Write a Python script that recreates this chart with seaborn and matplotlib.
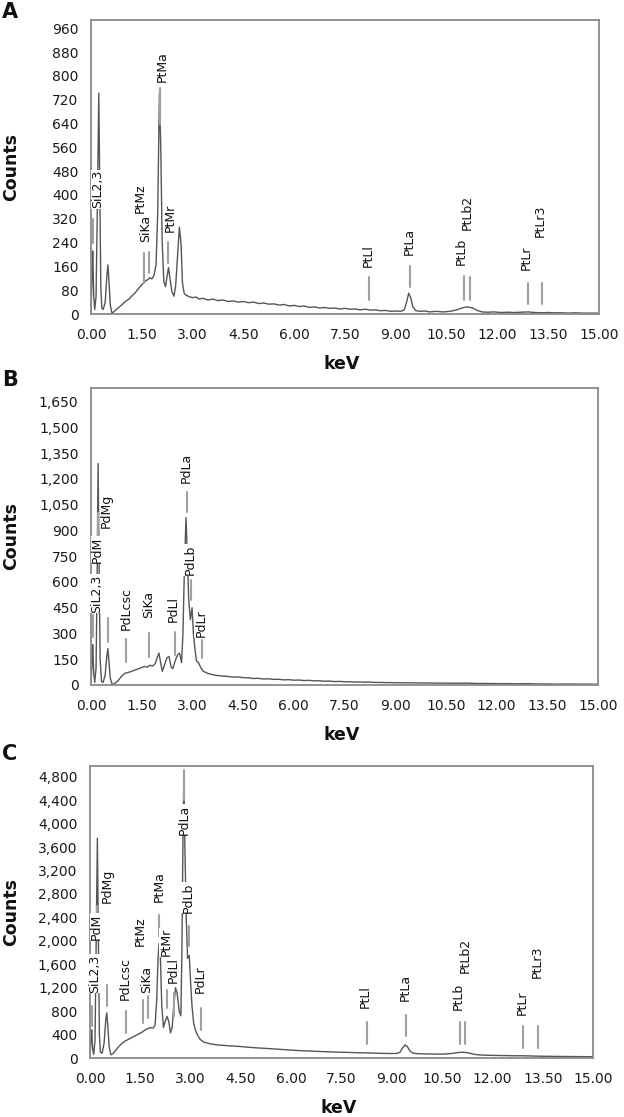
import matplotlib
matplotlib.use("Agg")
import matplotlib.pyplot as plt
from matplotlib.ticker import FuncFormatter
import seaborn as sns
import pandas as pd

sns.set_style("white")
plt.rcParams["font.family"] = ["DejaVu Sans"]

# ---------------- data (keV, counts) ----------------
spec_A = [(0.00, 5), (0.03, 120), (0.05, 212), (0.08, 60), (0.11, 15), (0.15, 60), (0.19, 380),
          (0.23, 742), (0.26, 420), (0.29, 90), (0.32, 20), (0.36, 15), (0.42, 40), (0.47, 130),
          (0.50, 165), (0.53, 110), (0.57, 30), (0.62, 2), (0.68, 8), (0.75, 15), (0.82, 22),
          (0.90, 30), (0.97, 38), (1.05, 45), (1.12, 50), (1.20, 60), (1.28, 68), (1.35, 78),
          (1.42, 88), (1.50, 98), (1.56, 106), (1.62, 112), (1.68, 116), (1.74, 122), (1.80, 118),
          (1.86, 130), (1.92, 165), (1.97, 340), (2.02, 742), (2.06, 560), (2.10, 250), (2.15, 110),
          (2.20, 92), (2.25, 130), (2.29, 156), (2.33, 120), (2.39, 75), (2.45, 60), (2.50, 95),
          (2.56, 205), (2.61, 292), (2.66, 235), (2.70, 105), (2.75, 70), (2.80, 64), (2.90, 58),
          (3.00, 55), (3.10, 57), (3.20, 50), (3.30, 53), (3.45, 47), (3.60, 50), (3.75, 45),
          (3.90, 47), (4.05, 42), (4.20, 44), (4.35, 40), (4.50, 42), (4.65, 38), (4.80, 40),
          (4.95, 35), (5.10, 37), (5.25, 33), (5.40, 34), (5.55, 30), (5.70, 32), (5.85, 27),
          (6.00, 29), (6.15, 25), (6.30, 27), (6.45, 22), (6.60, 24), (6.75, 20), (6.90, 22),
          (7.05, 19), (7.20, 20), (7.35, 17), (7.50, 19), (7.65, 16), (7.80, 17), (7.95, 14),
          (8.10, 16), (8.25, 13), (8.40, 14), (8.55, 11), (8.70, 12), (8.85, 9), (9.00, 10),
          (9.15, 9), (9.25, 14), (9.32, 40), (9.38, 70), (9.44, 55), (9.50, 25), (9.58, 12),
          (9.70, 9), (9.85, 10), (10.0, 7), (10.2, 9), (10.4, 7), (10.6, 9), (10.8, 14),
          (10.95, 20), (11.1, 24), (11.25, 21), (11.4, 12), (11.55, 7), (11.7, 6), (11.9, 7),
          (12.1, 5), (12.3, 6), (12.5, 5), (12.7, 6), (12.9, 7), (13.1, 5), (13.3, 4), (13.5, 5),
          (13.7, 4), (13.9, 4), (14.1, 3), (14.3, 4), (14.5, 3), (14.7, 3), (14.9, 3), (15.0, 3)]

spec_B = [(0.00, 5), (0.03, 130), (0.05, 235), (0.08, 70), (0.11, 15), (0.15, 100), (0.18, 600),
          (0.21, 1290), (0.24, 700), (0.27, 150), (0.31, 20), (0.36, 15), (0.42, 60), (0.47, 170),
          (0.50, 212), (0.53, 140), (0.57, 40), (0.63, 2), (0.70, 8), (0.80, 25), (0.90, 50),
          (1.00, 68), (1.08, 72), (1.18, 78), (1.28, 86), (1.38, 92), (1.48, 100), (1.58, 108),
          (1.66, 104), (1.74, 115), (1.82, 110), (1.90, 125), (1.96, 160), (2.01, 186), (2.06, 130),
          (2.11, 80), (2.18, 120), (2.25, 160), (2.31, 165), (2.37, 105), (2.42, 95), (2.49, 140),
          (2.56, 175), (2.62, 186), (2.68, 130), (2.72, 300), (2.76, 650), (2.81, 975), (2.85, 760),
          (2.89, 500), (2.94, 380), (2.99, 450), (3.03, 300), (3.07, 220), (3.12, 140), (3.18, 130),
          (3.25, 100), (3.32, 80), (3.45, 68), (3.60, 60), (3.75, 55), (3.90, 52), (4.05, 50),
          (4.20, 46), (4.35, 47), (4.50, 43), (4.65, 42), (4.80, 38), (4.95, 39), (5.10, 35),
          (5.25, 36), (5.40, 33), (5.55, 33), (5.70, 30), (5.85, 31), (6.00, 28), (6.15, 29),
          (6.30, 26), (6.45, 27), (6.60, 24), (6.75, 25), (6.90, 22), (7.05, 23), (7.20, 20),
          (7.35, 21), (7.50, 19), (7.65, 19), (7.80, 17), (7.95, 18), (8.10, 16), (8.25, 17),
          (8.40, 15), (8.55, 15), (8.70, 14), (8.85, 14), (9.00, 13), (9.3, 13), (9.6, 12),
          (9.9, 12), (10.2, 11), (10.5, 11), (10.8, 10), (11.1, 11), (11.4, 9), (11.7, 9),
          (12.0, 8), (12.3, 8), (12.6, 7), (12.9, 8), (13.2, 6), (13.5, 6), (13.8, 5), (14.1, 6),
          (14.4, 5), (14.7, 5), (15.0, 4)]

spec_C = [(0.00, 30), (0.03, 300), (0.05, 480), (0.08, 150), (0.11, 60), (0.15, 300), (0.18, 1800),
          (0.22, 3750), (0.25, 2000), (0.28, 400), (0.31, 100), (0.36, 80), (0.42, 250), (0.47, 650),
          (0.50, 770), (0.53, 560), (0.57, 200), (0.62, 56), (0.68, 70), (0.75, 120), (0.85, 190),
          (0.95, 250), (1.05, 290), (1.15, 320), (1.25, 350), (1.35, 380), (1.45, 410), (1.55, 440),
          (1.65, 480), (1.72, 500), (1.80, 520), (1.88, 510), (1.94, 560), (1.99, 1000), (2.03, 1700),
          (2.06, 1960), (2.10, 1700), (2.14, 900), (2.19, 520), (2.24, 620), (2.30, 710), (2.35, 620),
          (2.40, 430), (2.45, 520), (2.50, 900), (2.55, 1200), (2.60, 1100), (2.66, 800), (2.71, 720),
          (2.74, 1800), (2.77, 3600), (2.80, 4850), (2.83, 3600), (2.87, 2400), (2.91, 1700),
          (2.96, 1750), (3.00, 1300), (3.04, 900), (3.09, 600), (3.14, 480), (3.20, 400), (3.28, 320),
          (3.40, 270), (3.60, 240), (3.80, 222), (4.00, 215), (4.20, 205), (4.40, 200), (4.60, 190),
          (4.80, 180), (5.00, 172), (5.20, 165), (5.40, 158), (5.60, 150), (5.80, 142), (6.00, 135),
          (6.20, 128), (6.40, 122), (6.60, 118), (6.80, 112), (7.00, 108), (7.20, 104), (7.40, 100),
          (7.60, 97), (7.80, 93), (8.00, 90), (8.20, 88), (8.40, 85), (8.60, 80), (8.80, 78),
          (9.00, 76), (9.15, 78), (9.25, 100), (9.32, 170), (9.40, 225), (9.47, 190), (9.55, 110),
          (9.65, 80), (9.80, 72), (10.0, 70), (10.2, 68), (10.4, 66), (10.6, 68), (10.8, 78),
          (10.95, 92), (11.1, 98), (11.25, 92), (11.4, 70), (11.55, 55), (11.7, 50), (11.9, 46),
          (12.1, 44), (12.3, 42), (12.5, 40), (12.7, 38), (12.9, 38), (13.1, 35), (13.3, 32),
          (13.5, 30), (13.7, 29), (13.9, 27), (14.1, 26), (14.3, 25), (14.5, 24), (14.7, 23),
          (14.9, 22), (15.0, 22)]

# peak labels: (name, marker keV, marker low, marker high, text keV, text bottom)
labels_A = [("SiL2,3", 0.05, 240, 320, 0.19, 355), ("PtMz", 1.57, 104, 204, 1.46, 340),
            ("SiKa", 1.70, 137, 208, 1.62, 242), ("PtMa", 2.04, 640, 760, 2.09, 780),
            ("PtMr", 2.28, 170, 243, 2.33, 276), ("PtLl", 8.22, 47, 125, 8.18, 159),
            ("PtLa", 9.42, 90, 162, 9.40, 198), ("PtLb", 11.02, 47, 128, 10.94, 165),
            ("PtLb2", 11.19, 47, 126, 11.12, 282), ("PtLr", 12.90, 34, 105, 12.86, 148),
            ("PtLr3", 13.32, 32, 105, 13.28, 260)]
labels_B = [("SiL2,3", 0.06, 281, 408, 0.17, 419), ("PdM", 0.21, 800, 1000, 0.19, 710),
            ("PdMg", 0.50, 252, 390, 0.46, 914), ("PdLcsc", 1.03, 136, 268, 1.03, 320),
            ("SiKa", 1.71, 165, 303, 1.70, 388), ("PdLl", 2.48, 175, 311, 2.44, 369),
            ("PdLa", 2.83, 1009, 1126, 2.82, 1175), ("PdLb", 2.97, 495, 611, 2.93, 640),
            ("PdLr", 3.29, 157, 262, 3.26, 281)]
labels_C = [("SiL2,3", 0.06, 540, 880, 0.15, 1108), ("PdM", 0.21, 2200, 2600, 0.20, 2017),
            ("PdMg", 0.50, 880, 1250, 0.50, 2642), ("PdLcsc", 1.06, 426, 794, 1.06, 994),
            ("PtMz", 1.59, 597, 994, 1.51, 1903), ("SiKa", 1.72, 682, 1050, 1.70, 1108),
            ("PtMa", 2.06, 2073, 2443, 2.06, 2670), ("PtMr", 2.29, 852, 1165, 2.26, 1732),
            ("PdLl", 2.50, 710, 1108, 2.47, 1278), ("PdLa", 2.80, 4405, 4917, 2.80, 3807),
            ("PdLb", 2.96, 1903, 2244, 2.93, 2472), ("PdLr", 3.30, 483, 852, 3.30, 1108),
            ("PtLl", 8.25, 244, 608, 8.20, 852), ("PtLa", 9.42, 380, 739, 9.40, 966),
            ("PtLb", 11.03, 244, 608, 10.99, 824), ("PtLb2", 11.18, 244, 608, 11.18, 1449),
            ("PtLr", 12.92, 170, 551, 12.88, 739), ("PtLr3", 13.35, 170, 551, 13.33, 1364)]

x_ticks = [0.0, 1.5, 3.0, 4.5, 6.0, 7.5, 9.0, 10.5, 12.0, 13.5, 15.0]
panel_letters = ["A", "B", "C"]

# ---------------- figure ----------------
W, H = 624, 1117
fig = plt.figure(figsize=(W / 100, H / 100), dpi=100)

# (left px, top px, right px, bottom px)
boxes = [(91, 20, 599, 314), (91, 388, 598, 685), (90, 766, 593, 1058)]
ymax = [988, 1730, 4982]
ystep = [80, 150, 400]
ytop_tick = [960, 1650, 4800]
specs = [spec_A, spec_B, spec_C]
labels = [labels_A, labels_B, labels_C]
letter_y = [12, 380, 754]

spine_col = "#8a8a8a"
line_col = "#555555"
mark_col = "#a0a0a0"

for i in range(3):
    l, t, r, b = boxes[i]
    ax = fig.add_axes([l / W, 1 - b / H, (r - l) / W, (b - t) / H])
    df = pd.DataFrame(specs[i], columns=["keV", "Counts"])
    sns.lineplot(data=df, x="keV", y="Counts", ax=ax, color=line_col, linewidth=1.0,
                 estimator=None, sort=False)
    ax.set_xlim(0, 15)
    ax.set_ylim(0, ymax[i])
    ax.set_xticks(x_ticks)
    ax.xaxis.set_major_formatter(FuncFormatter(lambda v, p: f"{v:.2f}"))
    ax.set_yticks(list(range(0, ytop_tick[i] + 1, ystep[i])))
    ax.yaxis.set_major_formatter(FuncFormatter(lambda v, p: f"{int(round(v)):,}"))
    ax.set_xlabel("")
    ax.set_ylabel("")
    for s in ax.spines.values():
        s.set_color(spine_col)
        s.set_linewidth(1.3)
    ax.tick_params(axis="both", direction="out", length=5, width=1.1, color=spine_col,
                   labelcolor="#1a1a1a", labelsize=10, pad=4)
    ax.tick_params(axis="x", pad=5)

    for name, mx, lo, hi, tx, ty in labels[i]:
        ax.plot([mx, mx], [lo, hi], color=mark_col, linewidth=1.5, zorder=3)
        ax.text(tx, ty, name, rotation=90, ha="center", va="bottom", fontsize=9,
                color="#111111", zorder=5,
                bbox=dict(facecolor="white", edgecolor="none", pad=0.3))

    # axis titles
    fig.text(11 / W, 1 - ((t + b) / 2) / H, "Counts", rotation=90, ha="center", va="center",
             fontsize=12.5, fontweight="bold", color="#111111")
    fig.text(((l + r) / 2 - 3) / W, 1 - (b + 50) / H, "keV", ha="center", va="center",
             fontsize=12.5, fontweight="bold", color="#111111")
    fig.text(2 / W, 1 - letter_y[i] / H, panel_letters[i], ha="left", va="center",
             fontsize=15, fontweight="bold", color="#111111")

fig.savefig("out.png", dpi=100)
